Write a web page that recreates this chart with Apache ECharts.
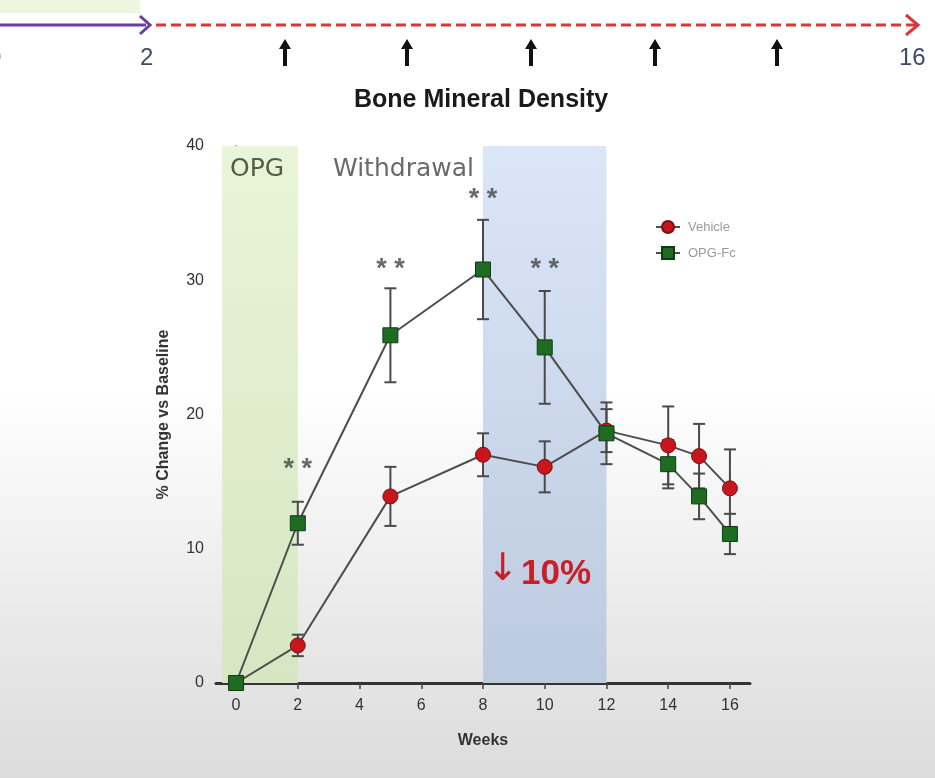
<!DOCTYPE html>
<html>
<head>
<meta charset="utf-8">
<title>Bone Mineral Density</title>
<script src="https://cdn.jsdelivr.net/npm/echarts@6/dist/echarts.min.js"></script>
<style>
    html, body { margin: 0; padding: 0; }
    body {
        width: 935px; height: 778px; overflow: hidden;
        background: linear-gradient(to bottom, #ffffff 0%, #ffffff 50%, #e9e9e9 80%, #dcdcdc 100%);
    }
    #chart { width: 935px; height: 778px; }
</style>
</head>
<body>
<div id="chart"></div>
<script>
    // weeks of measurement
    var weeks = [0, 2, 5, 8, 10, 12, 14, 15, 16];
    // % change vs baseline
    var vehicle = [0, 2.8, 13.9, 17.0, 16.1, 18.8, 17.7, 16.9, 14.5];
    var vehicleErr = [0, 0.8, 2.2, 1.6, 1.9, 1.6, 2.9, 2.4, 2.9];
    var opgFc = [0, 11.9, 25.9, 30.8, 25.0, 18.6, 16.3, 13.9, 11.1];
    var opgFcErr = [0, 1.6, 3.5, 3.7, 4.2, 2.3, 1.8, 1.7, 1.5];
    var xTicks = [0, 2, 4, 6, 8, 10, 12, 14, 16];
    // weeks with significance marks
    var starWeeks = [2, 5, 8, 10];
    var starValues = [15.9, 30.8, 36.0, 30.8];

    function pairs(xs, ys) {
        return xs.map(function (x, i) { return [x, ys[i]]; });
    }
    function errData(xs, ys, es) {
        return xs.map(function (x, i) { return [x, ys[i] - es[i], ys[i] + es[i]]; });
    }

    var errorBar = function (params, api) {
        var lo = api.coord([api.value(0), api.value(1)]);
        var hi = api.coord([api.value(0), api.value(2)]);
        var w = 6;
        var st = { stroke: '#4a4a4a', lineWidth: 2 };
        return {
            type: 'group',
            children: [
                { type: 'line', shape: { x1: hi[0], y1: hi[1], x2: lo[0], y2: lo[1] }, style: st },
                { type: 'line', shape: { x1: hi[0] - w, y1: hi[1], x2: hi[0] + w, y2: hi[1] }, style: st },
                { type: 'line', shape: { x1: lo[0] - w, y1: lo[1], x2: lo[0] + w, y2: lo[1] }, style: st }
            ]
        };
    };

    // small black up-arrow for the timeline
    function upArrow(x) {
        return {
            type: 'group',
            children: [
                { type: 'rect', shape: { x: x - 2, y: 46, width: 4, height: 20 }, style: { fill: '#111' } },
                { type: 'polygon', shape: { points: [[x - 6, 49], [x, 39], [x + 6, 49]] }, style: { fill: '#111' } }
            ]
        };
    }

    var myChart = echarts.init(document.getElementById('chart'));

    var chartOption = {
        backgroundColor: 'transparent',
        animation: false,
        grid: { left: 216, right: 185, top: 146, bottom: 95 },
        legend: {
            left: 650,
            top: 215,
            orient: 'vertical',
            itemGap: 12,
            itemWidth: 24,
            itemHeight: 15,
            textStyle: { color: '#9a9a9a', fontSize: 13, fontFamily: 'Liberation Sans', padding: [0, 0, 0, 3] },
            data: ['Vehicle', 'OPG-Fc']
        },
        xAxis: {
            type: 'value',
            min: -0.65,
            max: 16.65,
            name: 'Weeks',
            nameLocation: 'middle',
            nameGap: 50,
            nameTextStyle: { fontSize: 16, fontWeight: 'bold', color: '#333', fontFamily: 'Liberation Sans' },
            splitLine: { show: false },
            axisLine: { lineStyle: { color: '#333', width: 3 } },
            axisTick: { customValues: xTicks, length: 6, lineStyle: { color: '#444', width: 1.5 } },
            axisLabel: { customValues: xTicks, fontSize: 16, color: '#333', margin: 15, fontFamily: 'Liberation Sans' }
        },
        yAxis: {
            type: 'value',
            min: 0,
            max: 40,
            interval: 10,
            name: '% Change vs Baseline',
            nameLocation: 'middle',
            nameGap: 44,
            nameTextStyle: { fontSize: 16, fontWeight: 'bold', color: '#333', fontFamily: 'Liberation Sans' },
            splitLine: { show: false },
            axisLine: { show: true, lineStyle: { color: '#888', width: 2 } },
            axisTick: { show: true, length: 5, lineStyle: { color: '#666' } },
            axisLabel: { fontSize: 16, color: '#333', margin: 12, fontFamily: 'Liberation Sans' }
        },
        series: [
            {
                name: 'bands',
                type: 'line',
                data: [],
                markArea: {
                    silent: true,
                    label: { show: false },
                    data: [
                        [{ xAxis: -0.45, yAxis: 40, itemStyle: {
                            color: { type: 'linear', x: 0, y: 0, x2: 0, y2: 1,
                                colorStops: [{ offset: 0, color: '#e8f5d8' }, { offset: 1, color: '#d6e6c2' }] } } },
                         { xAxis: 2, yAxis: 0 }],
                        [{ xAxis: 8, yAxis: 40, itemStyle: {
                            color: { type: 'linear', x: 0, y: 0, x2: 0, y2: 1,
                                colorStops: [{ offset: 0, color: '#dbe6f8' }, { offset: 1, color: '#bccadf' }] } } },
                         { xAxis: 12, yAxis: 0 }]
                    ]
                }
            },
            {
                name: 'vehicleErr',
                type: 'custom',
                renderItem: errorBar,
                encode: { x: 0, y: [1, 2] },
                data: errData(weeks, vehicle, vehicleErr),
                z: 2
            },
            {
                name: 'opgErr',
                type: 'custom',
                renderItem: errorBar,
                encode: { x: 0, y: [1, 2] },
                data: errData(weeks, opgFc, opgFcErr),
                z: 2
            },
            {
                name: 'Vehicle',
                type: 'line',
                data: pairs(weeks, vehicle),
                symbol: 'circle',
                symbolSize: 15,
                lineStyle: { color: '#4d4d4d', width: 2 },
                itemStyle: { color: '#c8161d', borderColor: '#7a1010', borderWidth: 1 },
                z: 3
            },
            {
                name: 'OPG-Fc',
                type: 'line',
                data: pairs(weeks, opgFc),
                symbol: 'rect',
                symbolSize: 15,
                lineStyle: { color: '#4d4d4d', width: 2 },
                itemStyle: { color: '#1f6b22', borderColor: '#0f3d12', borderWidth: 1 },
                z: 4
            },
            {
                name: 'stars',
                type: 'scatter',
                data: pairs(starWeeks, starValues),
                symbolSize: 0,
                label: {
                    show: true,
                    position: 'inside',
                    formatter: '* *',
                    fontSize: 27,
                    fontWeight: 'bold',
                    color: '#444',
                    fontFamily: 'Liberation Sans'
                },
                z: 5
            }
        ],
        graphic: [
            // timeline at the top
            { type: 'rect', shape: { x: 0, y: 0, width: 140, height: 13 }, style: { fill: '#eef7de' } },
            { type: 'line', shape: { x1: 0, y1: 25, x2: 146, y2: 25 }, style: { stroke: '#6a3d9e', lineWidth: 3 } },
            { type: 'polyline', shape: { points: [[140, 16], [150, 25], [140, 34]] }, style: { stroke: '#6a3d9e', lineWidth: 3, fill: null } },
            { type: 'line', shape: { x1: 156, y1: 25, x2: 916, y2: 25 }, style: { stroke: '#d9373b', lineWidth: 3, lineDash: [10, 5] } },
            { type: 'polyline', shape: { points: [[906, 15], [918, 25], [906, 35]] }, style: { stroke: '#d9373b', lineWidth: 3, fill: null } },
            { type: 'text', left: -12, top: 46, style: { text: '0', fontSize: 24, fill: '#3d4b66', fontFamily: 'Liberation Sans' } },
            { type: 'text', left: 140, top: 46, style: { text: '2', fontSize: 24, fill: '#3d4b66', fontFamily: 'Liberation Sans' } },
            { type: 'text', left: 899, top: 46, style: { text: '16', fontSize: 24, fill: '#3d4b66', fontFamily: 'Liberation Sans' } },
            upArrow(285), upArrow(407), upArrow(531), upArrow(655), upArrow(777),
            { type: 'text', left: 354, top: 88, style: { text: 'Bone Mineral Density', fontSize: 25, fontWeight: 'bold', fill: '#1a1a1a', fontFamily: 'Liberation Sans' } },
            // band captions
            { type: 'text', left: 230, top: 157, z: 100, style: { text: 'OPG', fontSize: 25, fill: '#4f6140', fontFamily: 'DejaVu Sans' } },
            { type: 'text', left: 333, top: 157, z: 100, style: { text: 'Withdrawal', fontSize: 25, fill: '#6a6a6a', fontFamily: 'DejaVu Sans' } },
            // reduction note
            { type: 'text', left: 487, top: 551, z: 100, style: { text: '↓', fontSize: 38, fill: '#c8202a', fontFamily: 'DejaVu Sans' } },
            { type: 'text', left: 521, top: 557, z: 100, style: { text: '10%', fontSize: 35, fontWeight: 'bold', fill: '#c8202a', fontFamily: 'Liberation Sans' } }
        ]
    };

    myChart.setOption(chartOption);
</script>
</body>
</html>
